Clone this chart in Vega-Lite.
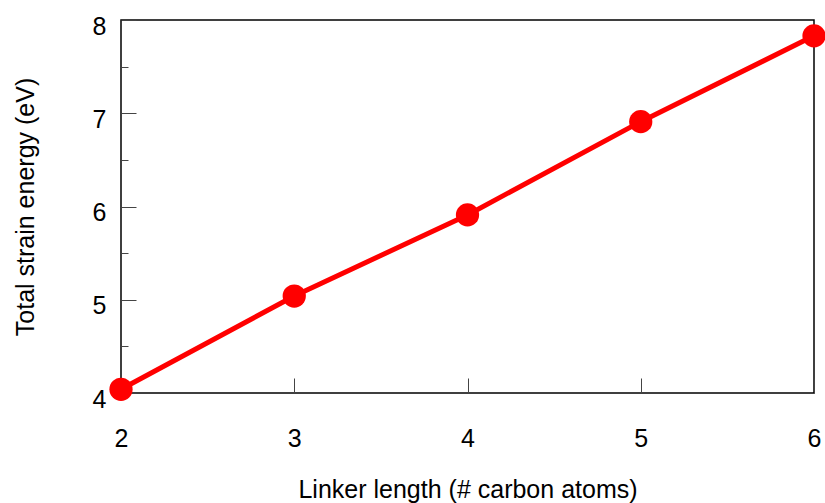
{
  "$schema": "https://vega.github.io/schema/vega-lite/v6.json",
  "autosize": {"type": "none"},
  "padding": {"left": 121, "top": 20, "right": 11, "bottom": 110},
  "width": 693,
  "height": 373,
  "background": "white",
  "config": {
    "view": {"stroke": "black", "strokeWidth": 1.5},
    "font": "Liberation Sans",
    "axis": {
      "labelFont": "Liberation Sans",
      "titleFont": "Liberation Sans",
      "labelFontSize": 25,
      "titleFontSize": 25,
      "titleFontWeight": "normal",
      "labelColor": "black",
      "titleColor": "black",
      "grid": false,
      "domain": false,
      "tickColor": "#444444",
      "tickWidth": 1
    }
  },
  "data": {
    "values": [
      {"linker": 2, "energy": 4.04},
      {"linker": 3, "energy": 5.04},
      {"linker": 4, "energy": 5.91},
      {"linker": 5, "energy": 6.91},
      {"linker": 6, "energy": 7.83}
    ]
  },
  "encoding": {
    "x": {
      "field": "linker",
      "type": "quantitative",
      "scale": {"domain": [2, 6], "nice": false, "zero": false},
      "axis": {
        "title": "Linker length (# carbon atoms)",
        "values": [2, 3, 4, 5, 6],
        "format": "d",
        "labelFlush": false,
        "tickSize": -15,
        "labelPadding": 48,
        "titlePadding": 26
      }
    },
    "y": {
      "field": "energy",
      "type": "quantitative",
      "scale": {"domain": [4, 8], "nice": false, "zero": false},
      "axis": {
        "title": "Total strain energy (eV)",
        "values": [4, 4.5, 5, 5.5, 6, 6.5, 7, 7.5, 8],
        "labelExpr": "datum.value % 1 === 0 ? format(datum.value, 'd') : ''",
        "labelFlush": false,
        "tickSize": {"condition": {"test": "datum.value % 1 === 0", "value": -15}, "value": -7},
        "labelPadding": 30,
        "labelOffset": 6,
        "titlePadding": 54
      }
    }
  },
  "layer": [
    {"mark": {"type": "line", "color": "#ff0000", "strokeWidth": 5, "clip": false}},
    {"mark": {"type": "point", "filled": true, "color": "#ff0000", "opacity": 1, "size": 540, "clip": false}}
  ]
}
